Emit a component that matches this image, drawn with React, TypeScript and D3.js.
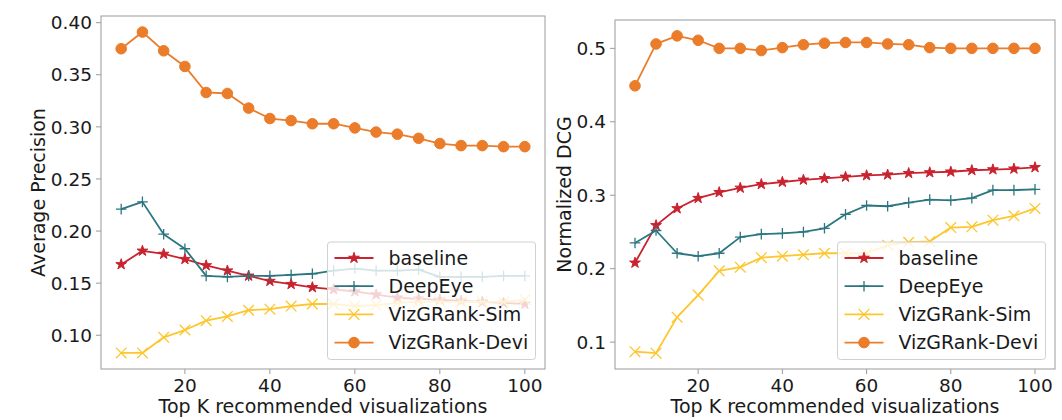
import React from "react";
import * as d3 from "d3";

const kValues = [5, 10, 15, 20, 25, 30, 35, 40, 45, 50, 55, 60, 65, 70, 75, 80, 85, 90, 95, 100];
const seriesNames = ["baseline", "DeepEye", "VizGRank-Sim", "VizGRank-Devi"];

// Left panel: Average Precision
const apBaseline = [0.168, 0.181, 0.178, 0.173, 0.167, 0.162, 0.157, 0.152, 0.149, 0.146, 0.144, 0.142, 0.139, 0.136, 0.135, 0.134, 0.133, 0.132, 0.131, 0.130];
const apDeepEye = [0.221, 0.228, 0.197, 0.183, 0.157, 0.156, 0.157, 0.157, 0.158, 0.159, 0.162, 0.164, 0.162, 0.162, 0.163, 0.156, 0.156, 0.156, 0.157, 0.157];
const apSim = [0.083, 0.083, 0.098, 0.105, 0.114, 0.118, 0.124, 0.125, 0.128, 0.130, 0.130, 0.128, 0.129, 0.131, 0.132, 0.132, 0.132, 0.132, 0.132, 0.134];
const apDevi = [0.375, 0.391, 0.373, 0.358, 0.333, 0.332, 0.318, 0.308, 0.306, 0.303, 0.303, 0.299, 0.295, 0.293, 0.289, 0.284, 0.282, 0.282, 0.281, 0.281];

// Right panel: Normalized DCG
const ndBaseline = [0.208, 0.259, 0.282, 0.296, 0.304, 0.310, 0.315, 0.318, 0.321, 0.323, 0.325, 0.327, 0.328, 0.330, 0.331, 0.332, 0.334, 0.335, 0.336, 0.338];
const ndDeepEye = [0.235, 0.252, 0.221, 0.217, 0.221, 0.243, 0.247, 0.248, 0.250, 0.255, 0.274, 0.286, 0.285, 0.290, 0.294, 0.293, 0.296, 0.307, 0.307, 0.308];
const ndSim = [0.087, 0.085, 0.134, 0.164, 0.197, 0.202, 0.215, 0.217, 0.219, 0.221, 0.221, 0.221, 0.232, 0.236, 0.237, 0.256, 0.257, 0.266, 0.272, 0.282];
const ndDevi = [0.449, 0.506, 0.517, 0.511, 0.500, 0.500, 0.497, 0.501, 0.505, 0.507, 0.508, 0.508, 0.506, 0.505, 0.501, 0.500, 0.500, 0.500, 0.500, 0.500];

const xTicks = [20, 40, 60, 80, 100];
const apTicks = [0.10, 0.15, 0.20, 0.25, 0.30, 0.35, 0.40];
const ndTicks = [0.1, 0.2, 0.3, 0.4, 0.5];

const colors = ["#c8232f", "#2b7680", "#fdc62d", "#ea7c2a"];
const markers = ["star", "plus", "x", "circle"];
const FONT = "DejaVu Sans, sans-serif";

function Marker({ kind, x, y, color }: { kind: string; x: number; y: number; color: string }) {
  if (kind === "star") {
    const p = d3.symbol(d3.symbolStar, 36)() as string;
    return <path d={p} transform={`translate(${x},${y})`} fill={color} stroke={color} strokeWidth={1} strokeLinejoin="miter" />;
  }
  if (kind === "circle") {
    return <circle cx={x} cy={y} r={5.3} fill={color} stroke={color} strokeWidth={1} />;
  }
  if (kind === "plus") {
    const s = 5.3;
    return <path d={`M${x - s},${y}H${x + s}M${x},${y - s}V${y + s}`} stroke={color} strokeWidth={1.3} fill="none" />;
  }
  const s = 5.3;
  return <path d={`M${x - s},${y - s}L${x + s},${y + s}M${x - s},${y + s}L${x + s},${y - s}`} stroke={color} strokeWidth={1.3} fill="none" />;
}

type PanelProps = {
  left: number; right: number; top: number; bottom: number;
  series: number[][]; yTicks: number[]; yFmt: string; yLabel: string; yLabelX: number;
};

function Panel({ left, right, top, bottom, series, yTicks, yFmt, yLabel, yLabelX }: PanelProps) {
  const xExt = d3.extent(kValues) as [number, number];
  const xPad = (xExt[1] - xExt[0]) * 0.05;
  const x = d3.scaleLinear().domain([xExt[0] - xPad, xExt[1] + xPad]).range([left, right]);
  const all = series.flat();
  const yExt = d3.extent(all) as [number, number];
  const yPad = (yExt[1] - yExt[0]) * 0.05;
  const y = d3.scaleLinear().domain([yExt[0] - yPad, yExt[1] + yPad]).range([bottom, top]);
  const line = d3.line<number>().x((_, i) => x(kValues[i])).y((d) => y(d));
  const fmt = d3.format(yFmt);
  const tickLen = 5;
  const fs = 18.5;

  const legW = 208;
  const legH = 117.5;
  const legR = right - 9.5;
  const legB = bottom - 9.5;
  const legL = legR - legW;
  const legT = legB - legH;
  const rowY0 = legT + 16;
  const rowDy = 28.2;

  return (
    <g>
      {series.map((s, si) => (
        <g key={si}>
          <path d={line(s) as string} fill="none" stroke={colors[si]} strokeWidth={1.8} strokeLinejoin="round" />
          {s.map((v, i) => (
            <Marker key={i} kind={markers[si]} x={x(kValues[i])} y={y(v)} color={colors[si]} />
          ))}
        </g>
      ))}
      <rect x={left} y={top} width={right - left} height={bottom - top} fill="none" stroke="#9a9a9a" strokeWidth={1} />
      {xTicks.map((t) => (
        <g key={t}>
          <line x1={x(t)} x2={x(t)} y1={bottom} y2={bottom + tickLen} stroke="#9a9a9a" strokeWidth={1} />
          <text x={x(t)} y={bottom + 23} textAnchor="middle" fontSize={fs} fontFamily={FONT} fill="#1a1a1a">{t}</text>
        </g>
      ))}
      {yTicks.map((t) => (
        <g key={t}>
          <line x1={left - tickLen} x2={left} y1={y(t)} y2={y(t)} stroke="#9a9a9a" strokeWidth={1} />
          <text x={left - 9} y={y(t)} dy="0.36em" textAnchor="end" fontSize={fs} fontFamily={FONT} fill="#1a1a1a">{fmt(t)}</text>
        </g>
      ))}
      <text x={(left + right) / 2} y={bottom + 44} textAnchor="middle" fontSize={19} fontFamily={FONT} fill="#1a1a1a">Top K recommended visualizations</text>
      <text transform={`translate(${yLabelX},${(top + bottom) / 2}) rotate(-90)`} dy="0.36em" textAnchor="middle" fontSize={19} fontFamily={FONT} fill="#1a1a1a">{yLabel}</text>
      <rect x={legL} y={legT} width={legW} height={legH} rx={3} ry={3} fill="#ffffff" fillOpacity={0.8} stroke="#d0d0d0" strokeWidth={1} />
      {seriesNames.map((n, i) => {
        const cy = rowY0 + i * rowDy;
        const lx1 = legL + 7;
        const lx2 = lx1 + 39;
        return (
          <g key={n}>
            <line x1={lx1} x2={lx2} y1={cy} y2={cy} stroke={colors[i]} strokeWidth={1.8} />
            <Marker kind={markers[i]} x={(lx1 + lx2) / 2} y={cy} color={colors[i]} />
            <text x={lx2 + 15} y={cy} dy="0.36em" fontSize={19} fontFamily={FONT} fill="#1a1a1a">{n}</text>
          </g>
        );
      })}
    </g>
  );
}

export default function App() {
  return (
    <svg width={1062} height={420} style={{ position: "absolute", left: 0, top: 0, background: "#fff" }}>
      <rect width={1062} height={420} fill="#fff" />
      <Panel left={101} right={545} top={16} bottom={369} series={[apBaseline, apDeepEye, apSim, apDevi]} yTicks={apTicks} yFmt=".2f" yLabel="Average Precision" yLabelX={38} />
      <Panel left={615} right={1055} top={20} bottom={369} series={[ndBaseline, ndDeepEye, ndSim, ndDevi]} yTicks={ndTicks} yFmt=".1f" yLabel="Normalized DCG" yLabelX={564} />
    </svg>
  );
}
